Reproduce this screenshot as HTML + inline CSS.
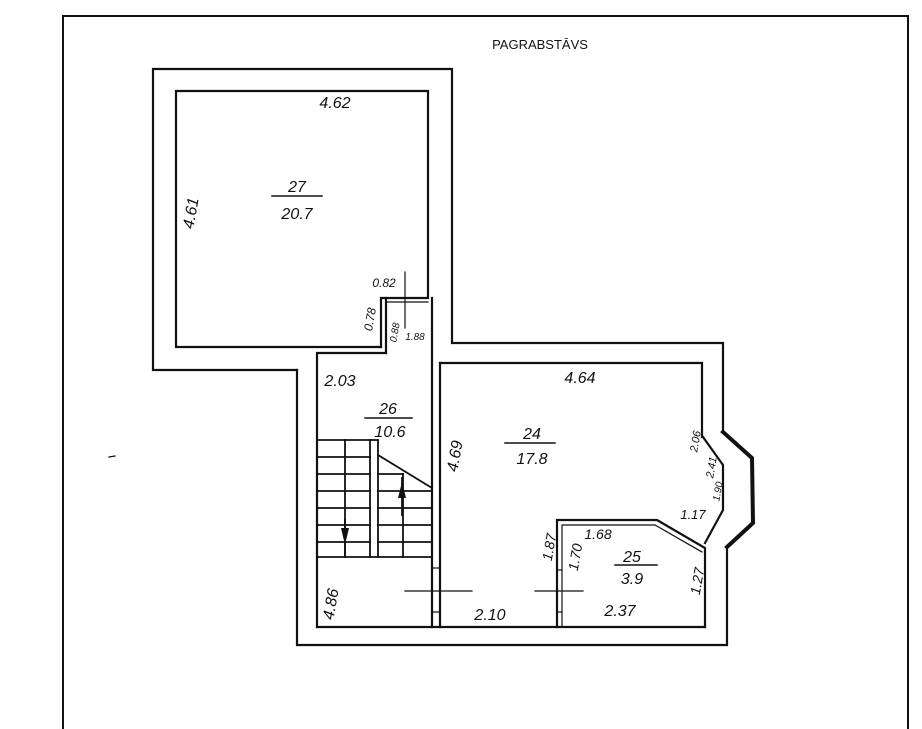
<!DOCTYPE html>
<html><head><meta charset="utf-8"><style>
html,body{margin:0;padding:0;background:#fff;width:922px;height:729px;overflow:hidden}
svg text{font-family:"Liberation Sans",sans-serif;font-style:italic;fill:#111}
</style></head><body>
<svg width="922" height="729" viewBox="0 0 922 729" xmlns="http://www.w3.org/2000/svg">
<g fill="none" stroke="#111" stroke-width="2.2" stroke-linecap="square">
<polyline points="63,729 63,16 908,16 908,729" stroke-width="2"/>
<polyline points="297,370 153,370 153,69 452,69 452,343 723,343 723,432"/>
<polyline points="297,370 297,645 727,645 727,547"/>
<polyline points="723,432 752,458 753,523 727,547" stroke-width="4"/>
<polyline points="703,437 723,465 723,510 705,543"/>
<polyline points="381,347 176,347 176,91 428,91 428,298 386,298 386,353"/>
<polyline points="381,347 381,298 386,298" />
<line x1="386" y1="302" x2="428" y2="302" stroke-width="1.2"/>
<polyline points="386,353 317,353 317,627"/>
<line x1="432" y1="298" x2="432" y2="627"/>
<line x1="440" y1="363" x2="440" y2="627"/>
<line x1="432" y1="568" x2="440" y2="568" stroke-width="1.2"/>
<line x1="432" y1="612" x2="440" y2="612" stroke-width="1.2"/>
<polyline points="440,363 702,363 702,437"/>
<line x1="317" y1="627" x2="705" y2="627"/>
<polyline points="557,627 557,520 657,520 705,548 705,627"/>
<polyline points="562,627 562,525 655,525 702,552" stroke-width="1.2"/>
<line x1="557" y1="570" x2="562" y2="570" stroke-width="1.2"/>
<line x1="557" y1="612" x2="562" y2="612" stroke-width="1.2"/>
<g stroke-width="1.8">
<polyline points="317,440 370,440 370,557"/>
<line x1="378" y1="440" x2="378" y2="557"/>
<line x1="370" y1="440" x2="378" y2="440"/>
<line x1="317" y1="557" x2="432" y2="557"/>
<line x1="345" y1="440" x2="345" y2="557"/>
<line x1="317" y1="457" x2="370" y2="457"/>
<line x1="317" y1="474" x2="370" y2="474"/>
<line x1="317" y1="491" x2="370" y2="491"/>
<line x1="317" y1="508" x2="370" y2="508"/>
<line x1="317" y1="525" x2="370" y2="525"/>
<line x1="317" y1="542" x2="370" y2="542"/>
<line x1="378" y1="455" x2="432" y2="488"/>
<line x1="378" y1="474" x2="403" y2="474"/>
<line x1="378" y1="491" x2="432" y2="491"/>
<line x1="378" y1="508" x2="432" y2="508"/>
<line x1="378" y1="525" x2="432" y2="525"/>
<line x1="378" y1="542" x2="432" y2="542"/>
<line x1="403" y1="474" x2="403" y2="557"/>
<line x1="345" y1="520" x2="345" y2="555"/>
<line x1="402" y1="515" x2="402" y2="478"/>
</g>
<line x1="405" y1="272" x2="405" y2="328" stroke-width="1.2"/>
<line x1="405" y1="591" x2="472" y2="591" stroke-width="1.2"/>
<line x1="535" y1="591" x2="583" y2="591" stroke-width="1.2"/>
<line x1="272" y1="196" x2="322" y2="196" stroke-width="1.5"/>
<line x1="365" y1="418" x2="412" y2="418" stroke-width="1.5"/>
<line x1="505" y1="443" x2="555" y2="443" stroke-width="1.5"/>
<line x1="615" y1="565" x2="657" y2="565" stroke-width="1.5"/>
<line x1="109" y1="457" x2="115" y2="456" stroke-width="1.2"/>
</g>
<polygon points="341,528 349,528 345,545" fill="#111"/>
<polygon points="398,498 406,498 402,482" fill="#111"/>
<text x="540" y="49" font-size="13" text-anchor="middle" style="font-style:normal">PAGRABSTĀVS</text>
<g font-size="16" text-anchor="middle">
<text x="335" y="108">4.62</text>
<text x="297" y="192">27</text>
<text x="297" y="219">20.7</text>
<text transform="translate(196,214) rotate(-80)">4.61</text>
<text x="384" y="287" font-size="12">0.82</text>
<text transform="translate(374,320) rotate(-80)" font-size="12">0.78</text>
<text transform="translate(398,333) rotate(-80)" font-size="10">0.88</text>
<text x="415" y="340" font-size="10">1.88</text>
<text x="340" y="386">2.03</text>
<text x="388" y="414">26</text>
<text x="390" y="437">10.6</text>
<text x="580" y="383">4.64</text>
<text transform="translate(460,457) rotate(-80)">4.69</text>
<text x="532" y="439">24</text>
<text x="532" y="464">17.8</text>
<text transform="translate(699,442) rotate(-80)" font-size="11">2.06</text>
<text transform="translate(715,468) rotate(-80)" font-size="11">2.41</text>
<text transform="translate(721,492) rotate(-80)" font-size="10">1.90</text>
<text x="693" y="519" font-size="13">1.17</text>
<text transform="translate(554,548) rotate(-80)" font-size="14">1.87</text>
<text transform="translate(580,558) rotate(-80)" font-size="14">1.70</text>
<text x="598" y="539" font-size="14">1.68</text>
<text x="632" y="562">25</text>
<text x="632" y="584">3.9</text>
<text transform="translate(702,582) rotate(-80)" font-size="14">1.27</text>
<text x="620" y="616">2.37</text>
<text x="490" y="620">2.10</text>
<text transform="translate(336,605) rotate(-80)">4.86</text>
</g>
</svg>
</body></html>
